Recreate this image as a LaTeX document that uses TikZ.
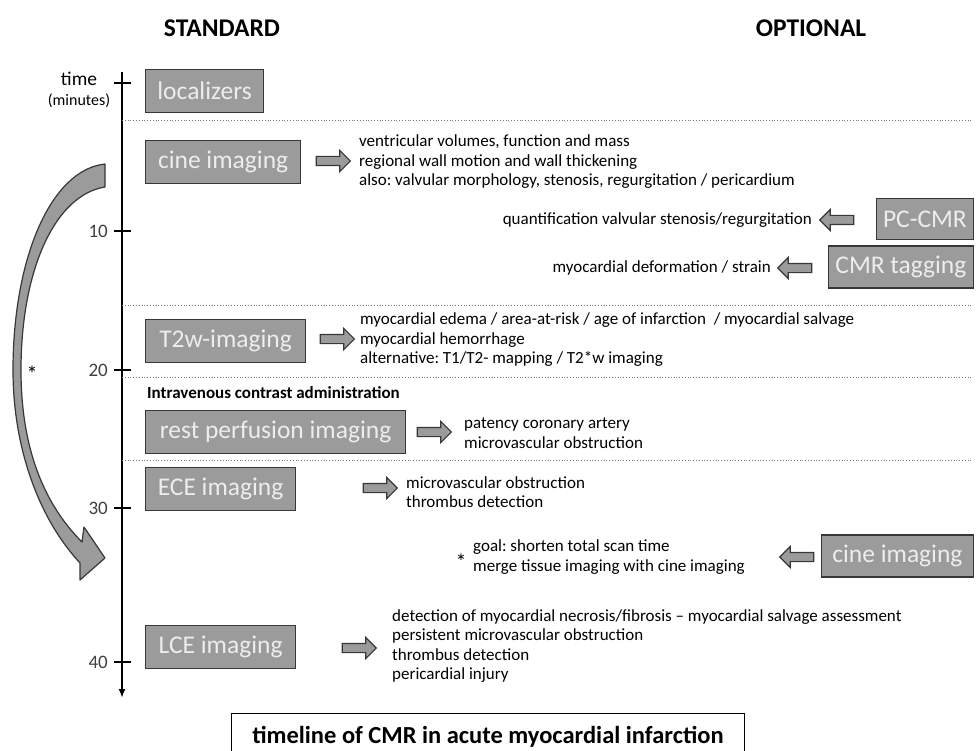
\documentclass[tikz,border=0pt]{standalone}
\usepackage{fontspec}
\setmainfont{Carlito}
\usepackage{xcolor}
\usepackage{tikz}
\usetikzlibrary{shapes.arrows, arrows.meta, positioning}
\frenchspacing
\definecolor{boxgray}{RGB}{155,155,155}
\definecolor{edgegray}{RGB}{55,55,55}
\definecolor{dotgray}{RGB}{120,120,120}
\tikzset{
    stepbox/.style={rectangle, draw=edgegray, line width=1.2pt, fill=boxgray, text=white!93!black, minimum height=43pt, inner sep=0pt, text centered, font=\fontsize{25.5}{28}\selectfont},
    desc/.style={align=left, anchor=west, inner sep=0pt, font=\fontsize{17}{19.5}\selectfont},
    descr/.style={align=right, anchor=east, inner sep=0pt, font=\fontsize{17}{19.5}\selectfont},
    header/.style={font=\bfseries\fontsize{25.5}{28}\selectfont},
    ticklabel/.style={anchor=east, inner sep=0pt, text=black!75, font=\fontsize{19}{21}\selectfont},
    blockarr/.style={single arrow, draw=edgegray, line width=1.1pt, fill=boxgray, minimum height=34pt, inner xsep=0pt, inner ysep=4pt, single arrow head extend=6pt},
    blockarrl/.style={blockarr, shape border rotate=180},
    axis/.style={line width=2.4pt, -{Latex[length=9pt,width=7pt]}},
    tick/.style={line width=2.4pt},
    sep/.style={dotted, line width=0.8pt, dotgray}
}

\begin{document}
\begin{tikzpicture}[x=1pt, y=-1pt]
        \useasboundingbox (0,0) rectangle (976,751);

        % Headers
        \node[header] (std) at (222,28) {STANDARD};
        \node[header] (opt) at (811,28) {OPTIONAL};

        % Time axis
        \coordinate (axtop) at (122,72);
        \coordinate (axbot) at (122,698);
        \draw[axis] (axtop) -- (axbot);
        \node[font=\fontsize{19.5}{21}\selectfont, inner sep=0pt] (time) at (79,79) {time};
        \node[font=\fontsize{16}{18}\selectfont, inner sep=0pt] (minutes) at (79,101) {(minutes)};
        \draw[tick] (114,83) -- (131,83);
        \foreach \t/\y in {10/231, 20/370, 30/508, 40/662} {
            \draw[tick] (114,\y) -- (131,\y);
            \node[ticklabel] (t\t) at (108,\y) {\t};
        }

        % Separators
        \foreach \y in {120,305,377,460}
            \draw[sep] (122,\y) -- (972,\y);

        % Standard sequences
        \node[stepbox, anchor=west, minimum width=118pt] (loc) at (145,91) {localizers};
        \node[stepbox, anchor=west, minimum width=155pt] (cine) at (145,162) {cine imaging};
        \node[stepbox, anchor=west, minimum width=160pt] (t2w) at (145,341) {T2w-imaging};
        \node[stepbox, anchor=west, minimum width=260pt] (rest) at (145,432) {rest perfusion imaging};
        \node[stepbox, anchor=west, minimum width=150pt] (ece) at (145,489) {ECE imaging};
        \node[stepbox, anchor=west, minimum width=150pt] (lce) at (145,647) {LCE imaging};

        % Optional sequences
        \node[stepbox, anchor=east, minimum width=97pt, minimum height=41pt] (pc) at (974,219) {PC-CMR};
        \node[stepbox, anchor=east, minimum width=145pt, minimum height=42pt] (tag) at (974,267) {CMR tagging};
        \node[stepbox, anchor=east, minimum width=152pt, minimum height=42pt] (cineopt) at (974,556) {cine imaging};

        % Findings
        \node[desc] (cinetxt) at (359,162) {ventricular volumes, function and mass\\regional wall motion and wall thickening\\also: valvular morphology, stenosis, regurgitation / pericardium};
        \node[descr] (pctxt) at (812,220) {quantification valvular stenosis/regurgitation};
        \node[descr] (tagtxt) at (771,268) {myocardial deformation / strain};
        \node[desc] (t2wtxt) at (360,340) {myocardial edema / area-at-risk / age of infarction~ / myocardial salvage\\myocardial hemorrhage\\alternative: T1/T2- mapping / T2*w imaging};
        \node[desc, font=\bfseries\fontsize{17}{19}\selectfont] (contrast) at (147,393) {Intravenous contrast administration};
        \node[desc] (resttxt) at (464,433) {patency coronary artery\\microvascular obstruction};
        \node[desc] (ecetxt) at (406,492) {microvascular obstruction\\thrombus detection};
        \node[font=\fontsize{22}{22}\selectfont, inner sep=0pt] (star) at (461,562) {*};
        \node[desc] (goaltxt) at (473,557) {goal: shorten total scan time\\merge tissue imaging with cine imaging};
        \node[desc] (lcetxt) at (392,646) {detection of myocardial necrosis/fibrosis -- myocardial salvage assessment\\persistent microvascular obstruction\\thrombus detection\\pericardial injury};

        % Block arrows
        \node[blockarr] (a1) at (331,161) {};
        \node[blockarr] (a2) at (335,339) {};
        \node[blockarr] (a3) at (432,432) {};
        \node[blockarr] (a4) at (378,488) {};
        \node[blockarr] (a5) at (357,648) {};
        \node[blockarrl] (a6) at (839,220) {};
        \node[blockarrl] (a7) at (797,268) {};
        \node[blockarrl] (a8) at (799,557) {};

        % Curved arrow (merge cine into tissue imaging)
        \filldraw[fill=boxgray, draw=edgegray, line width=1.2pt, line join=round]
            (105,164) .. controls (50,170) and (13,260) .. (13,370)
            .. controls (13,450) and (40,520) .. (80,563)
            -- (80,580) -- (105,558) -- (84,527) -- (82,542)
            .. controls (45,505) and (21,450) .. (21,370)
            .. controls (21,270) and (55,195) .. (105,187) -- cycle;
        \node[font=\fontsize{22}{22}\selectfont, inner sep=0pt] (star2) at (32,374) {*};

        % Title
        \node[draw=black, line width=0.9pt, fill=white, minimum width=513pt, minimum height=48pt, font=\bfseries\fontsize{24.5}{27}\selectfont] (title) at (488,737) {timeline of CMR in acute myocardial infarction};
    \end{tikzpicture}
\end{document}
